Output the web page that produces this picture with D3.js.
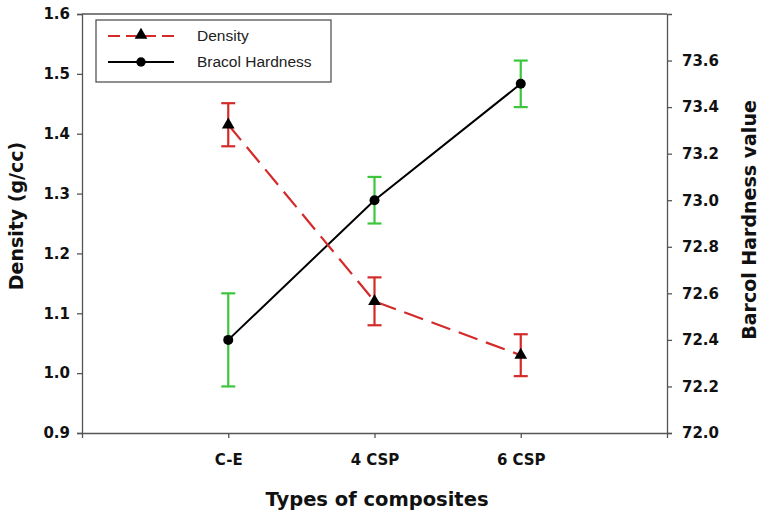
<!DOCTYPE html>
<html lang="en">
<head>
    <meta charset="UTF-8">
    <title>Density and Barcol Hardness</title>
    <script src="https://d3js.org/d3.v7.min.js"></script>
    <style>
        body { margin: 0; background: #fff; }
    </style>
</head>
<body>
    <svg width="760" height="514"></svg>
    <script>
        // data
        const categories = ["C-E", "4 CSP", "6 CSP"];
        const density = [1.415, 1.12, 1.03];
        const densityErr = [0.036, 0.04, 0.035];
        const hardness = [72.4, 73.0, 73.5];
        const hardnessErr = [0.2, 0.1, 0.1];
        const densityTicks = [0.9, 1.0, 1.1, 1.2, 1.3, 1.4, 1.5, 1.6];
        const hardnessTicks = [72.0, 72.2, 72.4, 72.6, 72.8, 73.0, 73.2, 73.4, 73.6];

        const svg = d3.select("svg");
        const plotL = 82, plotR = 667, plotT = 14, plotB = 433;
        const tickFont = "'DejaVu Sans', sans-serif";
        const axisColor = "#555";

        const x = d3.scaleLinear().domain([0, 4]).range([plotL, plotR]);
        const yL = d3.scaleLinear().domain([0.9, 1.6]).range([plotB, plotT]);
        const yR = d3.scaleLinear().domain([72.0, 73.8]).range([plotB, plotT]);

        // frame top line
        svg.append("line")
            .attr("x1", plotL).attr("x2", plotR)
            .attr("y1", plotT).attr("y2", plotT)
            .attr("stroke", axisColor).attr("stroke-width", 1.3);

        function styleAxis(g) {
            g.select(".domain").attr("stroke", axisColor).attr("stroke-width", 1.3);
            g.selectAll(".tick line").attr("stroke", axisColor).attr("stroke-width", 1.3);
            g.selectAll("text")
                .attr("font-family", tickFont)
                .attr("font-weight", "bold")
                .attr("font-size", 15)
                .attr("fill", "#111");
        }

        svg.append("g")
            .attr("transform", `translate(${plotL},0)`)
            .call(d3.axisLeft(yL).tickValues(densityTicks).tickFormat(d3.format(".1f"))
                .tickSizeOuter(0).tickSize(5).tickPadding(7))
            .call(styleAxis);

        svg.append("g")
            .attr("transform", `translate(${plotR},0)`)
            .call(d3.axisRight(yR).tickValues(hardnessTicks).tickFormat(d3.format(".1f"))
                .tickSizeOuter(0).tickSize(5).tickPadding(10))
            .call(styleAxis);

        svg.append("g")
            .attr("transform", `translate(0,${plotB})`)
            .call(d3.axisBottom(x).tickValues([1, 2, 3]).tickFormat((d, i) => categories[i])
                .tickSizeOuter(0).tickSize(5).tickPadding(16))
            .call(styleAxis);

        // axis titles
        svg.append("text")
            .attr("transform", "translate(23,216) rotate(-90)")
            .attr("text-anchor", "middle")
            .attr("font-family", tickFont).attr("font-weight", "bold").attr("font-size", 19)
            .attr("fill", "#111")
            .text("Density (g/cc)");

        svg.append("text")
            .attr("transform", "translate(756,220) rotate(-90)")
            .attr("text-anchor", "middle")
            .attr("font-family", tickFont).attr("font-weight", "bold").attr("font-size", 19)
            .attr("fill", "#111")
            .text("Barcol Hardness value");

        svg.append("text")
            .attr("x", 377).attr("y", 506)
            .attr("text-anchor", "middle")
            .attr("font-family", tickFont).attr("font-weight", "bold").attr("font-size", 19.5)
            .attr("fill", "#111")
            .text("Types of composites");

        const red = "#d42a2a", green = "#3cc63c";
        const capW = 7;

        // error bars
        function errorBars(vals, errs, scale, color) {
            const g = svg.append("g").attr("stroke", color).attr("stroke-width", 2.2).attr("fill", "none");
            vals.forEach((v, i) => {
                const cx = x(i + 1), y1 = scale(v + errs[i]), y2 = scale(v - errs[i]);
                g.append("line").attr("x1", cx).attr("x2", cx).attr("y1", y1).attr("y2", y2);
                g.append("line").attr("x1", cx - capW).attr("x2", cx + capW).attr("y1", y1).attr("y2", y1);
                g.append("line").attr("x1", cx - capW).attr("x2", cx + capW).attr("y1", y2).attr("y2", y2);
            });
        }
        errorBars(hardness, hardnessErr, yR, green);
        errorBars(density, densityErr, yL, red);

        // lines
        const lineD = d3.line().x((d, i) => x(i + 1)).y(d => yL(d));
        const lineH = d3.line().x((d, i) => x(i + 1)).y(d => yR(d));

        svg.append("path").datum(hardness)
            .attr("d", lineH).attr("fill", "none")
            .attr("stroke", "#000").attr("stroke-width", 2);

        svg.append("path").datum(density)
            .attr("d", lineD).attr("fill", "none")
            .attr("stroke", red).attr("stroke-width", 2.2)
            .attr("stroke-dasharray", "20,9");

        const tri = d3.symbol().type(d3.symbolTriangle).size(70);

        svg.append("g").selectAll("circle").data(hardness).join("circle")
            .attr("cx", (d, i) => x(i + 1)).attr("cy", d => yR(d))
            .attr("r", 5).attr("fill", "#000");

        svg.append("g").selectAll("path").data(density).join("path")
            .attr("d", tri)
            .attr("transform", (d, i) => `translate(${x(i + 1)},${yL(d)})`)
            .attr("fill", "#000");

        // legend
        const lg = svg.append("g");
        lg.append("rect")
            .attr("x", 96).attr("y", 20).attr("width", 235).attr("height", 62)
            .attr("fill", "#fff").attr("stroke", axisColor).attr("stroke-width", 1.3);

        lg.append("line")
            .attr("x1", 108).attr("x2", 174).attr("y1", 36).attr("y2", 36)
            .attr("stroke", red).attr("stroke-width", 2.2)
            .attr("stroke-dasharray", "12,6");
        lg.append("path").attr("d", tri).attr("transform", "translate(141,35)").attr("fill", "#000");
        lg.append("text").attr("x", 197).attr("y", 41)
            .attr("font-family", "'Liberation Sans', Arial, sans-serif").attr("font-size", 15.5)
            .attr("fill", "#222").text("Density");

        lg.append("line")
            .attr("x1", 108).attr("x2", 174).attr("y1", 62).attr("y2", 62)
            .attr("stroke", "#000").attr("stroke-width", 2);
        lg.append("circle").attr("cx", 141).attr("cy", 62).attr("r", 4.7).attr("fill", "#000");
        lg.append("text").attr("x", 197).attr("y", 67)
            .attr("font-family", "'Liberation Sans', Arial, sans-serif").attr("font-size", 15.5)
            .attr("fill", "#222").text("Bracol Hardness");
    </script>
</body>
</html>
